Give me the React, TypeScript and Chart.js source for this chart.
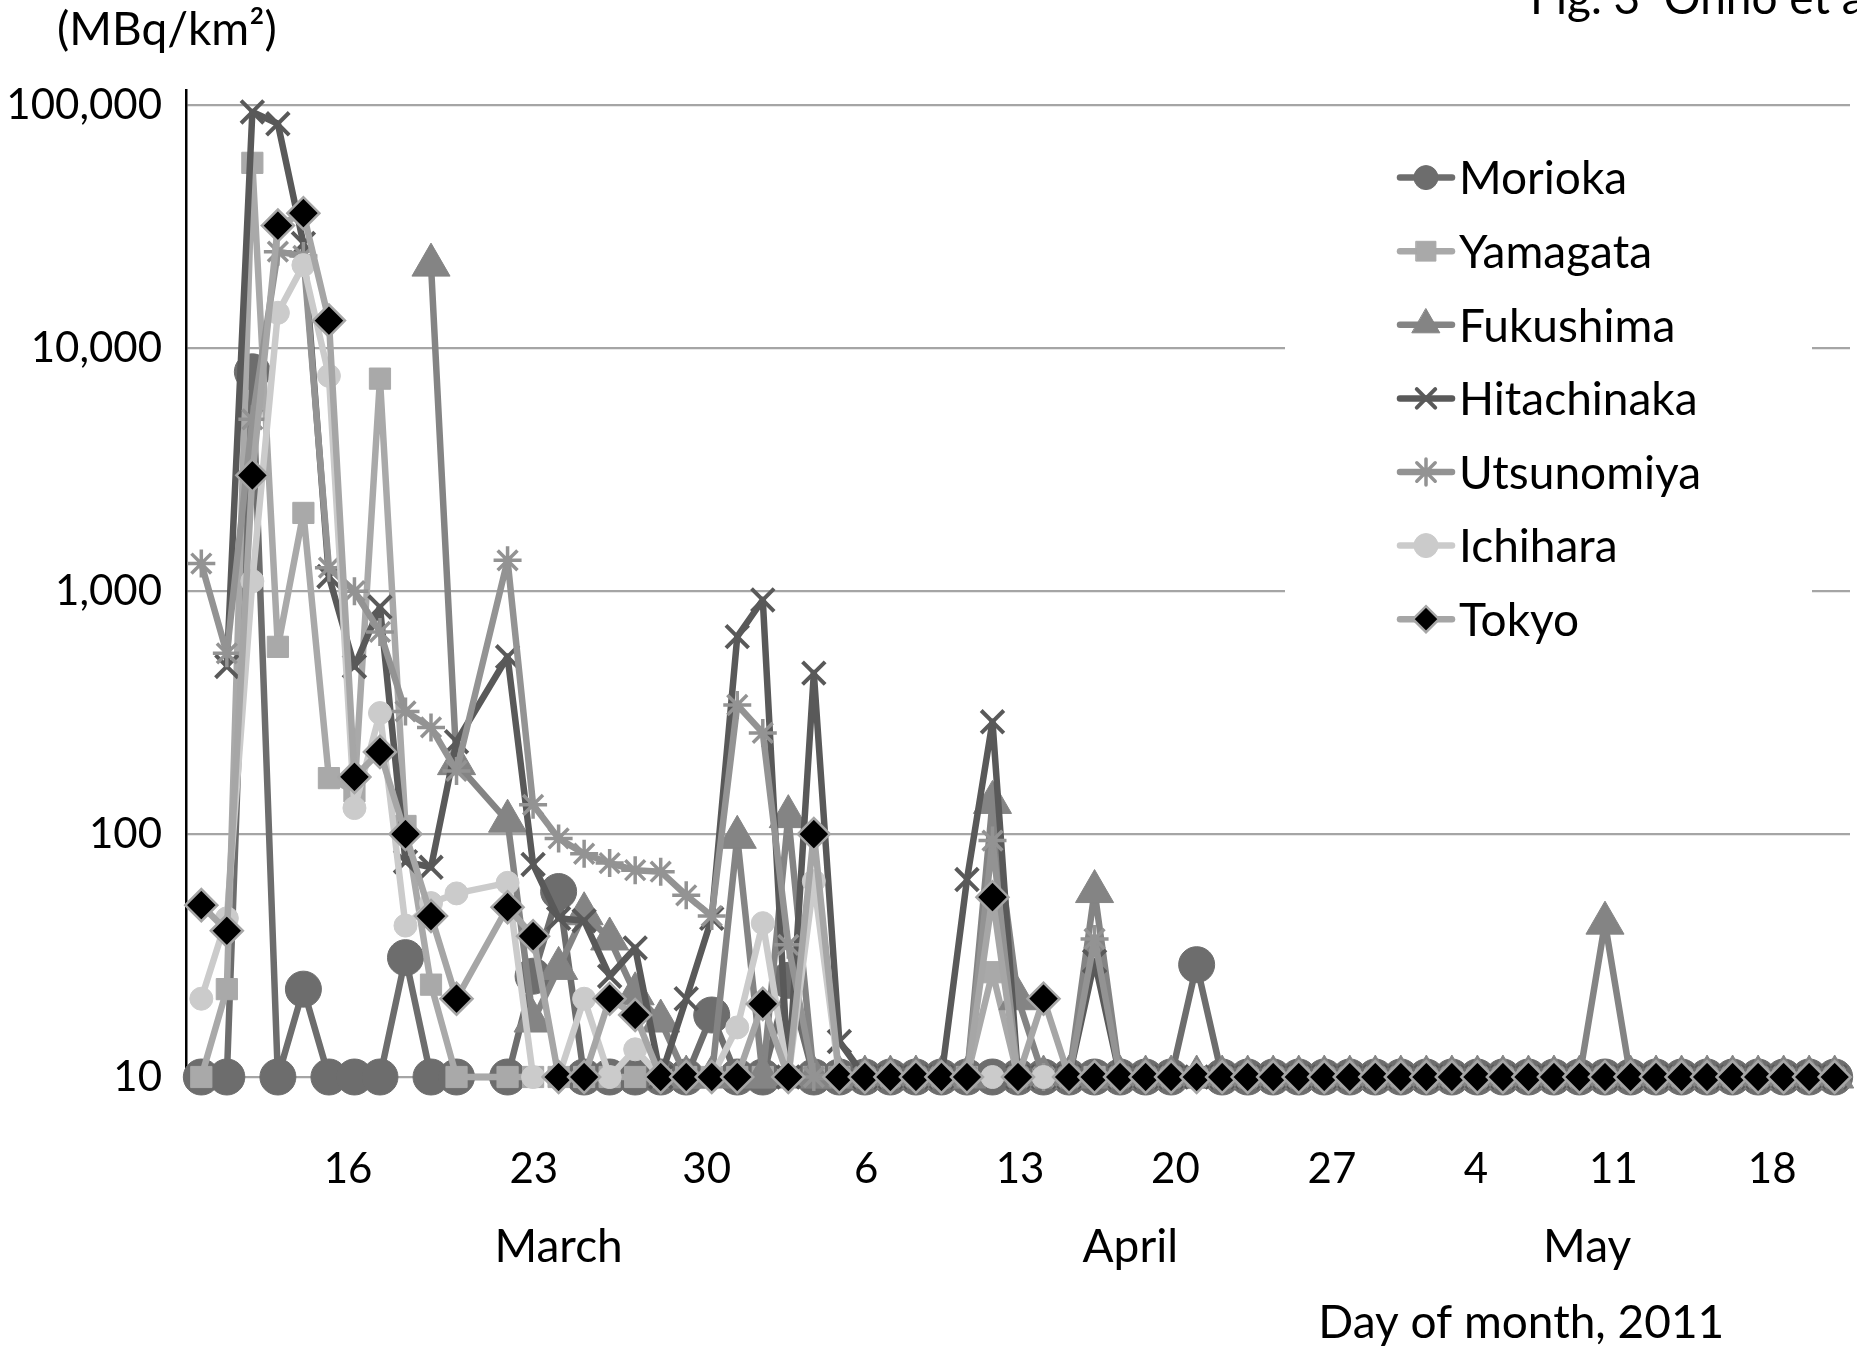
import React, { useEffect, useRef } from 'react';
import { Chart, registerables } from 'chart.js';
import { drawPoint } from 'chart.js/helpers';

Chart.register(...registerables);

// ---------------- data ----------------
// measurement slots (one per sampling day; slot 11 has no data)
const slotIndex: number[] = [
  0, 1, 2, 3, 4, 5, 6, 7, 8, 9,
  10, 11, 12, 13, 14, 15, 16, 17, 18, 19,
  20, 21, 22, 23, 24, 25, 26, 27, 28, 29,
  30, 31, 32, 33, 34, 35, 36, 37, 38, 39,
  40, 41, 42, 43, 44, 45, 46, 47, 48, 49,
  50, 51, 52, 53, 54, 55, 56, 57, 58, 59,
  60, 61, 62, 63, 64,
];

const morioka: (number | null)[] = [
  10, 10, 8000, 10, 23, 10, 10, 10, 31, 10,
  10, null, 10, 26, 58, 10, 10, 10, 10, 10,
  18, 10, 10, 25, 10, 10, 10, 10, 10, 10,
  10, 10, 10, 10, 10, 10, 10, 10, 10, 29,
  10, 10, 10, 10, 10, 10, 10, 10, 10, 10,
  10, 10, 10, 10, 10, 10, 10, 10, 10, 10,
  10, 10, 10, 10, 10,
];
const yamagata: (number | null)[] = [
  10, 23, 58000, 590, 2100, 170, 150, 7500, 108, 24,
  10, null, 10, 10, 10, 10, 10, 10, 10, 10,
  10, 10, 10, 10, 10, 10, 10, 10, 10, 10,
  10, 27, 10, 10, 10, 10, 10, 10, 10, 10,
  10, 10, 10, 10, 10, 10, 10, 10, 10, 10,
  10, 10, 10, 10, 10, 10, 10, 10, 10, 10,
  10, 10, 10, 10, 10,
];
const fukushima: (number | null)[] = [
  null, null, null, null, null, null, null, null, null, 22000,
  195, null, 113, 17, 28, 47, 37, 22, 17, 10,
  10, 97, 10, 118, 10, 10, 10, 10, 10, 10,
  10, 135, 21, 10, 10, 58, 10, 10, 10, 10,
  10, 10, 10, 10, 10, 10, 10, 10, 10, 10,
  10, 10, 10, 10, 10, 43, 10, 10, 10, 10,
  10, 10, 10, 10, 10,
];
const hitachinaka: (number | null)[] = [
  null, 490, 94000, 84000, 27000, 1150, 490, 860, 77, 73,
  240, null, 537, 75, 45, 44, 26, 34, 10, 21,
  45, 650, 920, 10, 460, 14, 10, 10, 10, 10,
  65, 290, 10, 10, 10, 30, 10, 10, 10, 10,
  10, 10, 10, 10, 10, 10, 10, 10, 10, 10,
  10, 10, 10, 10, 10, 10, 10, 10, 10, 10,
  10, 10, 10, 10, 10,
];
const utsunomiya: (number | null)[] = [
  1300, 555, 5100, 25000, 24000, 1250, 1000, 680, 320, 275,
  182, null, 1340, 132, 96, 83, 76, 71, 70, 56,
  46, 340, 261, 35, 10, 10, 10, 10, 10, 10,
  10, 94, 10, 10, 10, 37, 10, 10, 10, 10,
  10, 10, 10, 10, 10, 10, 10, 10, 10, 10,
  10, 10, 10, 10, 10, 10, 10, 10, 10, 10,
  10, 10, 10, 10, 10,
];
const ichihara: (number | null)[] = [
  21, 45, 1100, 14000, 22000, 7700, 128, 315, 42, 52,
  57, null, 63, 10, 10, 21, 10, 13, 10, 10,
  10, 16, 43, 10, 64, 10, 10, 10, 10, 10,
  10, 10, 10, 10, 10, 10, 10, 10, 10, 10,
  10, 10, 10, 10, 10, 10, 10, 10, 10, 10,
  10, 10, 10, 10, 10, 10, 10, 10, 10, 10,
  10, 10, 10, 10, 10,
];
const tokyo: (number | null)[] = [
  51, 40, 3000, 32000, 36000, 13000, 172, 218, 100, 46,
  21, null, 50, 38, 10, 10, 21, 18, 10, 10,
  10, 10, 20, 10, 100, 10, 10, 10, 10, 10,
  10, 55, 10, 21, 10, 10, 10, 10, 10, 10,
  10, 10, 10, 10, 10, 10, 10, 10, 10, 10,
  10, 10, 10, 10, 10, 10, 10, 10, 10, 10,
  10, 10, 10, 10, 10,
];

const seriesNames = ['Morioka', 'Yamagata', 'Fukushima', 'Hitachinaka', 'Utsunomiya', 'Ichihara', 'Tokyo'];
const seriesValues = [morioka, yamagata, fukushima, hitachinaka, utsunomiya, ichihara, tokyo];

const yTickValues = [10, 100, 1000, 10000, 100000];
const dayTickPos = [5.75, 13.03, 19.8, 26.05, 32.08, 38.17, 44.3, 49.94, 55.33, 61.55];
const dayTickLabels = ['16', '23', '30', '6', '13', '20', '27', '4', '11', '18'];
const monthPos = [14.0, 36.4, 54.3];
const monthLabels = ['March', 'April', 'May'];
const axisTitlePos = 51.72;
const axisTitle = 'Day of month, 2011';
const unitLabel = '(MBq/km\u00B2)';
const figLabel = 'Fig. 3  Ohno et al.';

// ---------------- styles ----------------
type SeriesStyle = {
  line: string; fill: string; border: string; style: string;
  r: number; bw: number; legendR: number;
};
const styles: SeriesStyle[] = [
  { line: '#6d6d6d', fill: '#6d6d6d', border: '#6d6d6d', style: 'circle', r: 18, bw: 1, legendR: 12 },
  { line: '#a9a9a9', fill: '#a9a9a9', border: '#a9a9a9', style: 'rect', r: 15, bw: 1, legendR: 14 },
  { line: '#848484', fill: '#848484', border: '#848484', style: 'triangle', r: 22, bw: 1, legendR: 16 },
  { line: '#595959', fill: '#595959', border: '#595959', style: 'crossRot', r: 16, bw: 4, legendR: 13 },
  { line: '#939393', fill: '#939393', border: '#939393', style: 'star', r: 14, bw: 3.5, legendR: 13 },
  { line: '#cbcbcb', fill: '#cbcbcb', border: '#cbcbcb', style: 'circle', r: 11.5, bw: 1, legendR: 12 },
  { line: '#a6a6a6', fill: '#000000', border: '#a6a6a6', style: 'rectRot', r: 16, bw: 2.5, legendR: 13 },
];
const LINE_W = 6.5;

const FONT = 'Lato';

const textPlugin = {
  id: 'textAndLegend',
  afterDraw(chart: any) {
    const ctx: CanvasRenderingContext2D = chart.ctx;
    const xs = chart.scales.x;
    ctx.save();
    ctx.fillStyle = '#000';
    ctx.font = `46px ${FONT}`;
    ctx.textAlign = 'center';
    ctx.textBaseline = 'middle';
    monthLabels.forEach((m, k) => ctx.fillText(m, xs.getPixelForValue(monthPos[k]), 1247));
    ctx.fillText(axisTitle, xs.getPixelForValue(axisTitlePos), 1323);
    ctx.textAlign = 'left';
    ctx.fillText(unitLabel, 57, 30);
    ctx.textBaseline = 'alphabetic';
    ctx.fillText(figLabel, 1530, 14);

    // legend
    ctx.fillStyle = '#ffffff';
    ctx.fillRect(1285, 120, 527, 530);
    const rowY0 = 177.6;
    const rowStep = 73.6;
    chart.data.datasets.forEach((ds: any, k: number) => {
      const st = styles[k];
      const y = rowY0 + k * rowStep;
      ctx.strokeStyle = st.line;
      ctx.lineWidth = LINE_W;
      ctx.lineCap = 'round';
      ctx.beginPath();
      ctx.moveTo(1400, y);
      ctx.lineTo(1452, y);
      ctx.stroke();
      ctx.fillStyle = st.fill;
      ctx.strokeStyle = st.border;
      ctx.lineWidth = st.bw;
      drawPoint(ctx, { pointStyle: st.style as any, rotation: 0, radius: st.legendR, borderWidth: st.bw }, 1426, y);
      ctx.fillStyle = '#000';
      ctx.font = `46px ${FONT}`;
      ctx.textAlign = 'left';
      ctx.textBaseline = 'middle';
      ctx.fillText(ds.label, 1459, y + 2);
    });
    ctx.restore();
  },
};

export default function App() {
  const ref = useRef<HTMLCanvasElement | null>(null);

  useEffect(() => {
    if (!ref.current) return;
    Chart.defaults.font.family = FONT;
    const datasets = seriesValues.map((vals, k) => {
      const st = styles[k];
      return {
        label: seriesNames[k],
        data: vals.map((v, i) => ({ x: slotIndex[i], y: v })),
        borderColor: st.line,
        backgroundColor: st.fill,
        borderWidth: LINE_W,
        borderJoinStyle: 'round',
        pointStyle: st.style,
        pointRadius: st.r,
        pointHoverRadius: st.r,
        pointBackgroundColor: st.fill,
        pointBorderColor: st.border,
        pointBorderWidth: st.bw,
        spanGaps: true,
        tension: 0,
        clip: false,
        order: seriesNames.length - k,
      };
    });

    const chart = new Chart(ref.current, {
      type: 'line',
      data: { datasets: datasets as any },
      options: {
        responsive: false,
        animation: false,
        devicePixelRatio: 1,
        events: [],
        layout: { autoPadding: false, padding: { left: 0, right: 7, top: 90, bottom: 0 } },
        plugins: { legend: { display: false }, tooltip: { enabled: false }, title: { display: false } },
        scales: {
          x: {
            type: 'linear',
            min: -0.6,
            max: 64.6,
            grid: { display: false, drawTicks: false },
            border: { display: true, color: '#a5a5a5', width: 2 },
            afterBuildTicks: (scale: any) => {
              scale.ticks = dayTickPos.map((v) => ({ value: v }));
            },
            afterFit: (scale: any) => {
              scale.height = 273;
              scale.paddingLeft = 0;
              scale.paddingRight = 0;
            },
            ticks: {
              autoSkip: false,
              maxRotation: 0,
              minRotation: 0,
              padding: 67,
              color: '#000',
              font: { size: 42, family: FONT, lineHeight: 1.2 },
              callback: (_v: any, idx: number) => dayTickLabels[idx],
            },
          },
          y: {
            type: 'logarithmic',
            min: 10,
            max: 115700,
            grid: { color: '#a5a5a5', lineWidth: 2.2, drawTicks: false },
            border: { display: true, color: '#000000', width: 2.5 },
            afterBuildTicks: (scale: any) => {
              scale.ticks = yTickValues.map((v) => ({ value: v }));
            },
            afterFit: (scale: any) => {
              scale.width = 186;
              scale.paddingTop = 0;
              scale.paddingBottom = 0;
            },
            ticks: {
              padding: 24,
              color: '#000',
              font: { size: 42, family: FONT },
              callback: (v: any) => Number(v).toLocaleString('en-US'),
            },
          },
        },
      },
      plugins: [textPlugin],
    });
    return () => chart.destroy();
  }, []);

  return (
    <div style={{ position: 'fixed', left: 0, top: 0, width: 1857, height: 1350, background: '#ffffff' }}>
      <canvas ref={ref} width={1857} height={1350} style={{ display: 'block' }} />
    </div>
  );
}
